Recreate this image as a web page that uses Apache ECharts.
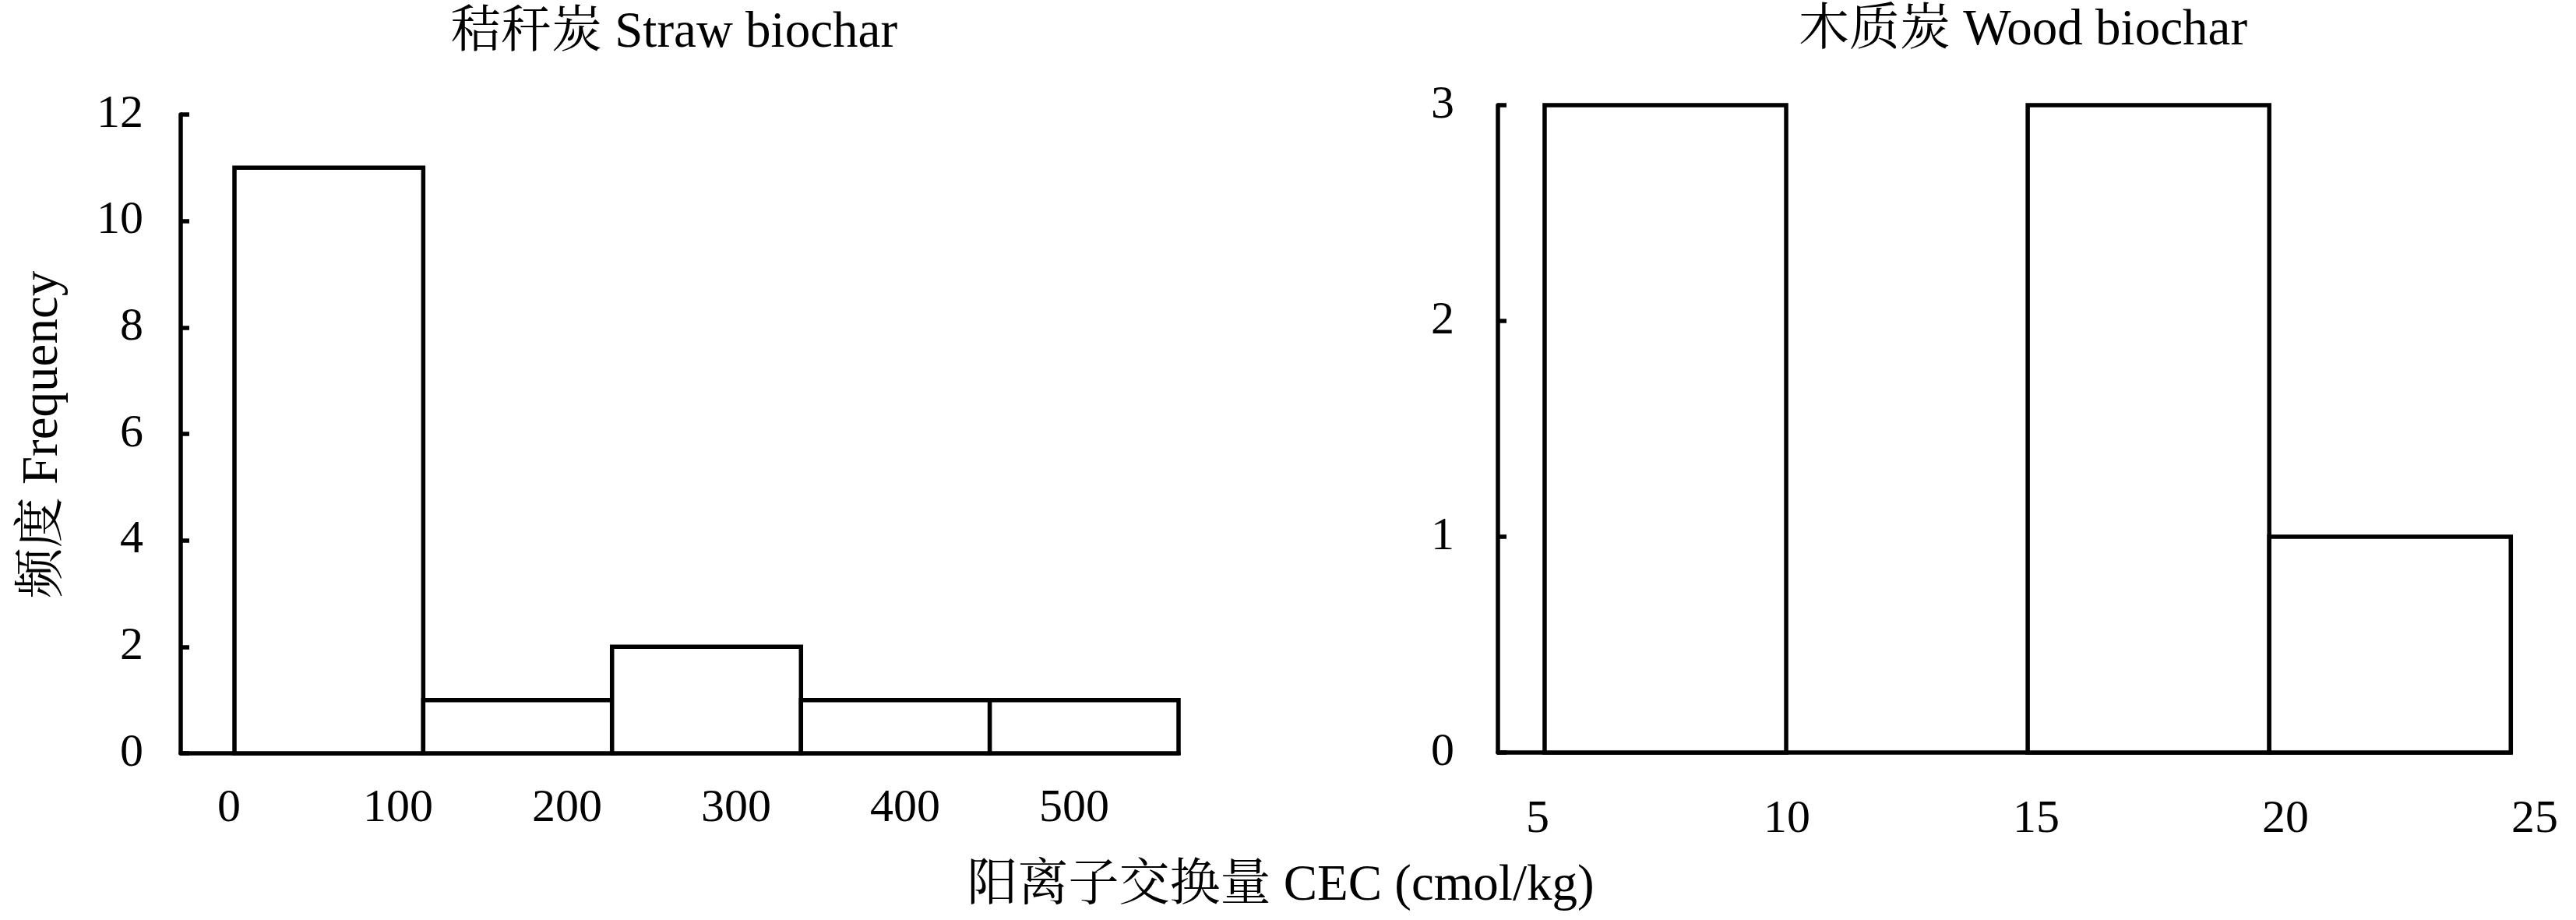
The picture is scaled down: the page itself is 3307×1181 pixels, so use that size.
<!DOCTYPE html>
<html>
<head>
<meta charset="utf-8">
<script src="https://cdn.jsdelivr.net/npm/echarts@6/dist/echarts.min.js"></script>
<style>
html,body{margin:0;padding:0;background:#fff;}
#chart{width:3307px;height:1181px;}
</style>
</head>
<body>
<div id="chart"></div>
<script>
// ---- Data ----
const strawBinEdges = [3.2, 114.9, 226.6, 338.4, 450.1, 561.8];
const strawCounts = [11, 1, 2, 1, 1];
const strawTickLabels = [0, 100, 200, 300, 400, 500];

const woodBinEdges = [5.14, 9.985, 14.83, 19.675, 24.52];
const woodCounts = [3, 0, 3, 1];
const woodTickLabels = [5, 10, 15, 20, 25];

const titleStraw = '秸秆炭 Straw biochar';
const titleWood = '木质炭 Wood biochar';
const xTitle = '阳离子交换量 CEC (cmol/kg)';
const yTitle = '频度 Frequency';

// ---- Build ----
function bins(edges, counts){
  return counts.map((c,i)=>[edges[i], edges[i+1], c]);
}
const FONT = "'Liberation Serif','Times New Roman','Noto Serif CJK SC','Noto Sans CJK SC',serif";
const LW = 5.5;

function renderBar(params, api){
  const x0 = api.value(0), x1 = api.value(1), h = api.value(2);
  if (!h) return null;
  const p0 = api.coord([x0, 0]);
  const p1 = api.coord([x1, h]);
  return {
    type:'rect',
    shape:{x:p0[0], y:p1[1], width:p1[0]-p0[0], height:p0[1]-p1[1]},
    style:{fill:'#fff', stroke:'#000', lineWidth:LW}
  };
}

function yAxisCfg(gi, max, interval, margin){
  return {
    type:'value', gridIndex:gi, min:0, max:max, interval:interval,
    axisLine:{show:true, onZero:false, lineStyle:{color:'#000', width:LW}},
    axisTick:{show:true, inside:true, length:11, lineStyle:{color:'#000', width:LW}},
    axisLabel:{color:'#000', fontFamily:FONT, fontSize:60, margin:margin},
    splitLine:{show:false}
  };
}
function xAxisCfg(gi, min, max, labels, margin, showLine){
  return {
    type:'value', gridIndex:gi, min:min, max:max,
    axisLine:{show:showLine, onZero:false, lineStyle:{color:'#000', width:LW}},
    axisTick:{show:false},
    axisLabel:{show:!!labels, color:'#000', fontFamily:FONT, fontSize:60, margin:margin,
      customValues:labels || [], showMinLabel:true, showMaxLabel:true},
    splitLine:{show:false}
  };
}
function hiddenY(gi){
  return {type:'value', gridIndex:gi, min:0, max:1, show:false};
}

// Right panel: axis line ends at 24.52 but the "25" label lies just beyond it,
// so labels come from an overlay axis of the same scale extended to 25.
const woodMin = 4.203, woodMax = 24.52, woodPxPerUnit = 64.0;
const woodLeft = 1923, woodWidth = (woodMax - woodMin) * woodPxPerUnit;
const woodLabelMax = 25.3;
const woodLabelWidth = (woodLabelMax - woodMin) * woodPxPerUnit;

const chart = echarts.init(document.getElementById('chart'), null, {renderer:'canvas'});
chart.setOption({
  backgroundColor:'#fff',
  animation:false,
  grid:[
    {left:232, top:147, width:1281, height:820},
    {left:woodLeft, top:135, width:woodWidth, height:831},
    {left:woodLeft, top:135, width:woodLabelWidth, height:831}
  ],
  xAxis:[
    xAxisCfg(0, -28.6, 561.8, strawTickLabels, 41, true),
    xAxisCfg(1, woodMin, woodMax, null, 55, true),
    xAxisCfg(2, woodMin, woodLabelMax, woodTickLabels, 56, false)
  ],
  yAxis:[
    yAxisCfg(0, 12, 2, 48),
    yAxisCfg(1, 3, 1, 56),
    hiddenY(2)
  ],
  series:[
    {type:'custom', xAxisIndex:0, yAxisIndex:0, renderItem:renderBar,
     data:bins(strawBinEdges, strawCounts), encode:{x:[0,1], y:2}},
    {type:'custom', xAxisIndex:1, yAxisIndex:1, renderItem:renderBar,
     data:bins(woodBinEdges, woodCounts), encode:{x:[0,1], y:2}}
  ],
  graphic:[
    {type:'text', x:865, y:43, style:{text:titleStraw, font:"65px "+FONT, fill:'#000', align:'center', verticalAlign:'middle'}},
    {type:'text', x:2597, y:40, style:{text:titleWood, font:"65px "+FONT, fill:'#000', align:'center', verticalAlign:'middle'}},
    {type:'text', x:1644, y:1138, style:{text:xTitle, font:"65px "+FONT, fill:'#000', align:'center', verticalAlign:'middle'}},
    {type:'text', x:56, y:558, rotation:Math.PI/2, style:{text:yTitle, font:"65px "+FONT, fill:'#000', align:'center', verticalAlign:'middle'}}
  ]
});
</script>
</body>
</html>
